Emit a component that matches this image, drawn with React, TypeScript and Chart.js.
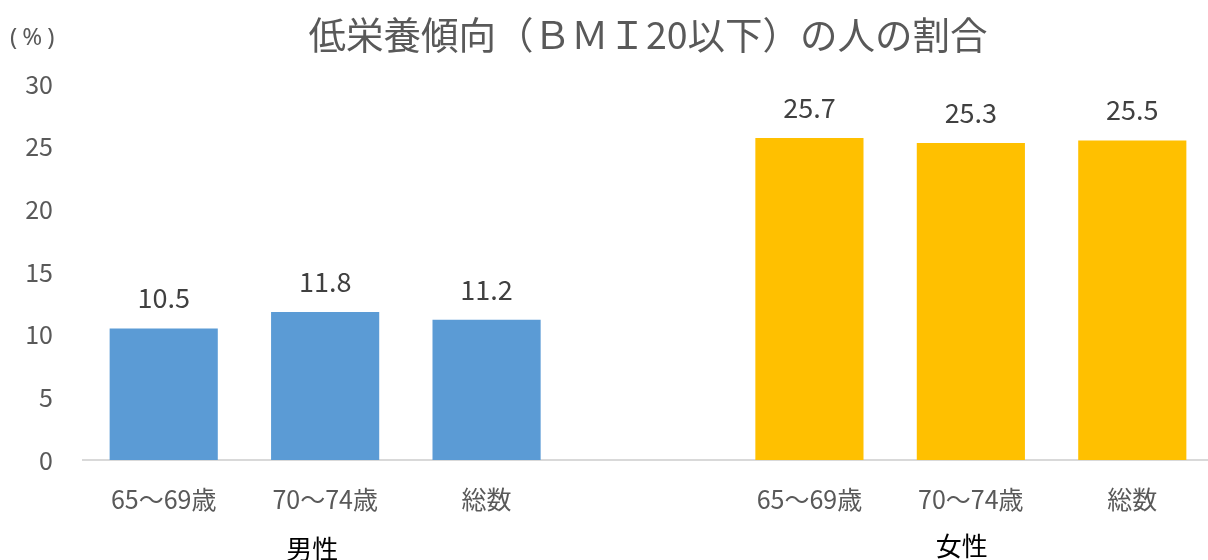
import React, { useEffect, useRef } from "react";
import { Chart, registerables } from "chart.js";

Chart.register(...registerables);

const titleText = "低栄養傾向（ＢＭＩ20以下）の人の割合";
const unitText = "(%)";
const ageLabels = ["65～69歳", "70～74歳", "総数"];
const groupLabels = ["男性", "女性"];
const maleValues = [10.5, 11.8, 11.2];
const femaleValues = [25.7, 25.3, 25.5];
const maleColor = "#5B9BD5";
const femaleColor = "#FFC000";
const yTicks = [0, 5, 10, 15, 20, 25, 30];

const FONT = "'Noto Sans CJK JP', 'Noto Sans', sans-serif";

export default function App() {
  const ref = useRef<HTMLCanvasElement | null>(null);

  useEffect(() => {
    document.body.style.margin = "0";
    const labels = [...ageLabels, "", ...ageLabels];
    const data = [...maleValues, null, ...femaleValues];
    const colors = [
      ...maleValues.map(() => maleColor),
      "rgba(0,0,0,0)",
      ...femaleValues.map(() => femaleColor),
    ];

    const overlay = {
      id: "overlay",
      afterDatasetsDraw(chart: any) {
        const ctx = chart.ctx;
        const area = chart.chartArea;
        ctx.save();
        // title
        ctx.fillStyle = "#595959";
        ctx.font = `37.5px ${FONT}`;
        ctx.textAlign = "center";
        ctx.textBaseline = "middle";
        ctx.fillText(titleText, (area.left + area.right) / 2, 35);
        // unit
        ctx.font = `24px 'Noto Sans', sans-serif`;
        ctx.textAlign = "left";
        (ctx as any).letterSpacing = "5px";
        ctx.fillText(unitText, 10, 38);
        (ctx as any).letterSpacing = "0px";
        // data labels
        const meta = chart.getDatasetMeta(0);
        ctx.fillStyle = "#404040";
        ctx.font = `27px ${FONT}`;
        ctx.textAlign = "center";
        ctx.textBaseline = "alphabetic";
        meta.data.forEach((bar: any, i: number) => {
          const v = data[i];
          if (v == null) return;
          ctx.fillText(v.toFixed(1), bar.x, bar.y - 20);
        });
        // group labels
        const xs = chart.scales.x;
        ctx.fillStyle = "#000000";
        ctx.font = `26px ${FONT}`;
        ctx.textBaseline = "middle";
        ctx.fillText(groupLabels[0], xs.getPixelForValue(1) - 13, 549);
        ctx.fillText(groupLabels[1], xs.getPixelForValue(5) - 9, 546);
        ctx.restore();
      },
    };

    const chart = new Chart(ref.current as HTMLCanvasElement, {
      type: "bar",
      data: {
        labels,
        datasets: [
          {
            data,
            backgroundColor: colors,
            categoryPercentage: 1,
            barPercentage: 0.67,
          },
        ],
      },
      options: {
        responsive: false,
        animation: false,
        layout: { padding: { top: 84, right: 3, left: 0, bottom: 0 } },
        plugins: {
          legend: { display: false },
          title: { display: false },
          tooltip: { enabled: false },
        },
        scales: {
          x: {
            grid: { display: false, drawTicks: false },
            border: { display: true, color: "#D9D9D9", width: 2 },
            ticks: {
              color: "#595959",
              font: { size: 25, family: FONT },
              padding: 24,
              maxRotation: 0,
              autoSkip: false,
            },
            afterFit(scale: any) {
              scale.height = 100;
            },
          },
          y: {
            min: 0,
            max: 30,
            grid: { display: false, drawTicks: false },
            border: { display: false },
            afterBuildTicks(scale: any) {
              scale.ticks = yTicks.map((v) => ({ value: v }));
            },
            ticks: {
              color: "#595959",
              font: { size: 25, family: FONT },
              padding: 30,
            },
            afterFit(scale: any) {
              scale.width = 83;
            },
          },
        },
      },
      plugins: [overlay],
    } as any);
    return () => chart.destroy();
  }, []);

  return (
    <div style={{ width: 1208, height: 560, overflow: "hidden" }}>
      <canvas ref={ref} width={1216} height={560} style={{ display: "block" }} />
    </div>
  );
}
